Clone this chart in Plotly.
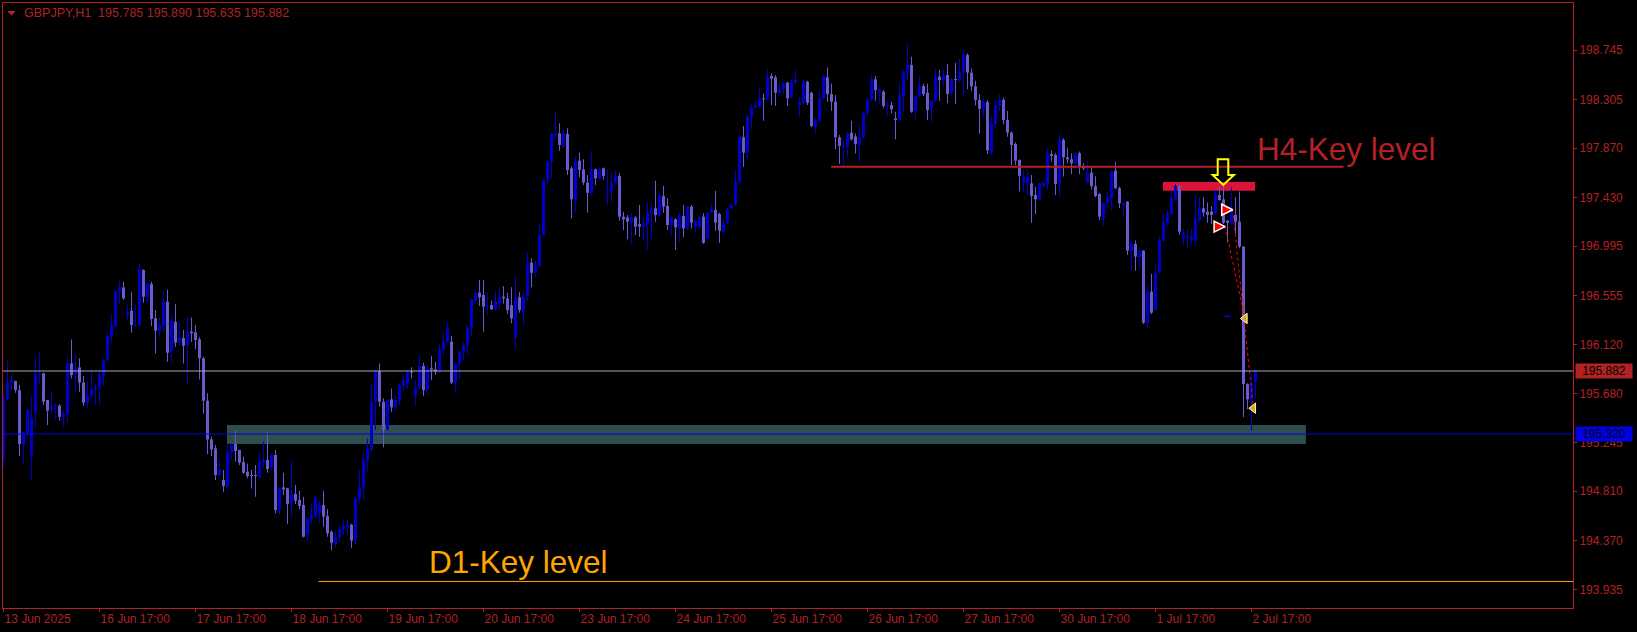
import plotly.graph_objects as go

# ---------------- data ----------------
tick_labels = ["13 Jun 2025", "16 Jun 17:00", "17 Jun 17:00", "18 Jun 17:00", "19 Jun 17:00",
               "20 Jun 17:00", "23 Jun 17:00", "24 Jun 17:00", "25 Jun 17:00", "26 Jun 17:00",
               "27 Jun 17:00", "30 Jun 17:00", "1 Jul 17:00", "2 Jul 17:00"]
tick_bars = [0, 24, 48, 72, 96, 120, 144, 168, 192, 216, 240, 264, 288, 312]

price_ticks = [198.745, 198.305, 197.870, 197.430, 196.995, 196.555, 196.120,
               195.680, 195.245, 194.810, 194.370, 193.935]

open_ = [195.103, 195.632, 195.778, 195.793, 195.712, 195.222, 195.311, 195.133, 195.510, 195.846,
         195.861, 195.623, 195.540, 195.564, 195.573, 195.474, 195.504, 195.950, 195.855, 195.914,
         195.778, 195.599, 195.662, 195.718, 195.736, 195.837, 195.986, 196.188, 196.277, 196.589,
         196.628, 196.381, 196.420, 196.289, 196.292, 196.783, 196.545, 196.658, 196.352, 196.242,
         196.283, 196.500, 196.054, 196.322, 196.135, 196.176, 196.114, 196.233, 196.227, 196.164,
         195.995, 195.617, 195.272, 195.192, 194.954, 194.910, 194.850, 195.162, 195.231, 195.177,
         195.070, 194.984, 194.951, 194.951, 194.933, 195.064, 195.088, 195.023, 195.133, 194.642,
         194.844, 194.835, 194.701, 194.785, 194.731, 194.687, 194.419, 194.559, 194.583, 194.618,
         194.687, 194.589, 194.449, 194.340, 194.400, 194.470, 194.490, 194.510, 194.370, 194.746,
         194.844, 195.082, 195.177, 195.608, 195.882, 195.608, 195.361, 195.629, 195.558, 195.617,
         195.748, 195.772, 195.876, 195.668, 195.742, 195.926, 195.712, 195.906, 195.897, 195.876,
         196.075, 196.143, 196.143, 195.778, 195.950, 196.054, 196.114, 196.271, 196.509, 196.580,
         196.560, 196.462, 196.470, 196.432, 196.485, 196.545, 196.530, 196.470, 196.182, 196.539,
         196.411, 196.551, 196.848, 196.759, 196.818, 197.095, 197.591, 197.749, 197.987, 198.002,
         197.889, 197.996, 197.689, 197.407, 197.758, 197.681, 197.562, 197.466, 197.681, 197.600,
         197.689, 197.472, 197.481, 197.562, 197.621, 197.258, 197.252, 197.205, 197.252, 197.193,
         197.169, 197.184, 197.288, 197.333, 197.273, 197.443, 197.354, 197.184, 197.235, 197.151,
         197.264, 197.154, 197.348, 197.169, 197.169, 197.258, 197.065, 197.294, 197.318, 197.282,
         197.124, 197.205, 197.333, 197.363, 197.562, 197.966, 197.829, 198.150, 198.233, 198.239,
         198.314, 198.305, 198.513, 198.501, 198.364, 198.394, 198.453, 198.323, 198.453, 198.254,
         198.275, 198.462, 198.364, 198.061, 198.114, 198.314, 198.501, 198.352, 198.284, 197.966,
         197.883, 197.883, 198.007, 197.972, 197.898, 197.966, 198.180, 198.305, 198.483, 198.364,
         198.373, 198.245, 198.254, 198.135, 198.120, 198.329, 198.552, 198.611, 198.204, 198.334,
         198.424, 198.364, 198.216, 198.293, 198.507, 198.477, 198.522, 198.358, 198.483, 198.477,
         198.552, 198.700, 198.543, 198.420, 198.300, 198.220, 198.280, 197.824, 198.085, 198.250,
         198.300, 198.121, 198.008, 197.907, 197.764, 197.562, 197.556, 197.556, 197.452, 197.413,
         197.532, 197.550, 197.818, 197.809, 197.550, 197.943, 197.788, 197.770, 197.735, 197.824,
         197.711, 197.562, 197.651, 197.530, 197.461, 197.244, 197.384, 197.422, 197.669, 197.512,
         197.363, 197.393, 196.947, 197.015, 196.896, 196.956, 196.313, 196.590, 196.426, 196.759,
         197.045, 197.205, 197.283, 197.413, 197.532, 197.066, 197.074, 197.045, 197.045, 197.223,
         197.333, 197.303, 197.303, 197.289, 197.452, 197.413, 197.223, 197.199, 197.274, 197.214,
         196.991, 195.766, 195.630, 195.785]

high = [195.683, 195.971, 195.861, 195.795, 195.757, 195.341, 195.540, 195.653, 196.004, 196.054,
        195.866, 195.625, 195.706, 195.594, 195.588, 195.534, 195.995, 196.164, 196.033, 195.995,
        195.837, 195.787, 195.897, 195.772, 195.897, 195.986, 196.218, 196.390, 196.604, 196.687,
        196.679, 196.470, 196.589, 196.470, 196.836, 196.789, 196.670, 196.679, 196.426, 196.352,
        196.589, 196.610, 196.381, 196.479, 196.322, 196.247, 196.372, 196.360, 196.292, 196.182,
        196.010, 195.683, 195.296, 195.222, 195.088, 195.000, 195.222, 195.237, 195.347, 195.180,
        195.118, 195.058, 195.000, 195.043, 195.162, 195.252, 195.332, 195.142, 195.177, 194.844,
        194.975, 194.840, 195.082, 194.865, 194.814, 194.761, 194.583, 194.701, 194.767, 194.725,
        194.811, 194.648, 194.460, 194.460, 194.510, 194.550, 194.550, 194.520, 194.760, 194.999,
        195.162, 195.281, 195.766, 195.891, 195.950, 195.638, 195.629, 195.727, 195.659, 195.778,
        195.846, 195.885, 195.915, 195.808, 196.033, 195.956, 195.926, 196.016, 195.965, 196.129,
        196.218, 196.322, 196.194, 195.956, 196.069, 196.143, 196.292, 196.530, 196.604, 196.693,
        196.693, 196.574, 196.509, 196.589, 196.628, 196.640, 196.580, 196.628, 196.729, 196.589,
        196.589, 196.937, 196.887, 196.872, 197.199, 197.591, 197.758, 198.008, 198.195, 198.091,
        198.037, 198.046, 197.704, 197.793, 197.829, 197.770, 197.630, 197.847, 197.689, 197.704,
        197.698, 197.675, 197.660, 197.675, 197.645, 197.303, 197.273, 197.294, 197.262, 197.362,
        197.250, 197.392, 197.377, 197.579, 197.461, 197.532, 197.422, 197.258, 197.244, 197.288,
        197.363, 197.354, 197.363, 197.228, 197.264, 197.288, 197.303, 197.371, 197.490, 197.294,
        197.230, 197.342, 197.377, 197.675, 197.987, 198.067, 198.165, 198.263, 198.299, 198.403,
        198.358, 198.572, 198.537, 198.522, 198.453, 198.462, 198.462, 198.483, 198.572, 198.323,
        198.477, 198.471, 198.373, 198.135, 198.382, 198.522, 198.590, 198.447, 198.343, 197.987,
        197.942, 198.016, 198.115, 198.001, 198.067, 198.195, 198.314, 198.531, 198.513, 198.418,
        198.388, 198.284, 198.284, 198.195, 198.447, 198.566, 198.798, 198.685, 198.343, 198.513,
        198.447, 198.447, 198.299, 198.581, 198.566, 198.572, 198.620, 198.492, 198.632, 198.670,
        198.745, 198.715, 198.580, 198.470, 198.350, 198.330, 198.300, 198.150, 198.300, 198.350,
        198.320, 198.200, 198.017, 197.919, 197.770, 197.675, 197.681, 197.630, 197.526, 197.562,
        197.570, 197.868, 197.848, 197.824, 197.996, 197.958, 197.868, 197.824, 197.830, 197.839,
        197.735, 197.749, 197.705, 197.620, 197.467, 197.384, 197.482, 197.669, 197.749, 197.526,
        197.393, 197.398, 197.045, 197.045, 196.962, 196.960, 196.649, 196.748, 196.828, 197.074,
        197.283, 197.318, 197.491, 197.550, 197.541, 197.155, 197.146, 197.140, 197.461, 197.431,
        197.431, 197.384, 197.354, 197.491, 197.526, 197.541, 197.229, 197.520, 197.431, 197.482,
        196.997, 195.772, 195.862, 195.890]

low = [195.029, 195.623, 195.718, 195.689, 195.124, 195.058, 195.305, 194.916, 195.391, 195.772,
       195.579, 195.400, 195.490, 195.445, 195.439, 195.385, 195.421, 195.816, 195.683, 195.698,
       195.570, 195.546, 195.638, 195.579, 195.570, 195.748, 195.980, 196.135, 196.262, 196.485,
       196.515, 196.337, 196.224, 196.277, 196.283, 196.491, 196.485, 196.283, 196.039, 196.182,
       196.233, 195.965, 195.950, 196.099, 196.114, 195.950, 195.757, 196.143, 196.075, 195.807,
       195.504, 195.142, 195.124, 194.910, 194.940, 194.806, 194.835, 195.088, 195.073, 195.043,
       194.963, 194.925, 194.835, 194.761, 194.925, 195.014, 194.975, 194.993, 194.612, 194.597,
       194.776, 194.517, 194.577, 194.696, 194.648, 194.398, 194.374, 194.517, 194.568, 194.523,
       194.493, 194.404, 194.280, 194.310, 194.360, 194.420, 194.420, 194.300, 194.340, 194.701,
       194.731, 194.993, 195.162, 195.355, 195.564, 195.201, 195.350, 195.519, 195.528, 195.579,
       195.706, 195.718, 195.816, 195.570, 195.718, 195.659, 195.668, 195.801, 195.846, 195.861,
       196.025, 196.129, 195.766, 195.689, 195.808, 195.980, 196.025, 196.194, 196.485, 196.462,
       196.233, 196.381, 196.426, 196.426, 196.426, 196.485, 196.390, 196.307, 196.084, 196.402,
       196.292, 196.509, 196.628, 196.717, 196.812, 197.086, 197.541, 197.600, 197.942, 197.847,
       197.877, 197.630, 197.243, 197.294, 197.609, 197.541, 197.294, 197.452, 197.541, 197.585,
       197.591, 197.362, 197.392, 197.550, 197.223, 197.139, 197.056, 197.015, 197.095, 197.080,
       197.050, 196.961, 197.056, 197.214, 197.264, 197.294, 197.139, 197.095, 196.961, 197.035,
       197.074, 197.139, 197.154, 197.124, 197.154, 197.014, 197.056, 197.290, 197.133, 197.026,
       197.110, 197.193, 197.330, 197.355, 197.555, 197.704, 197.758, 198.037, 198.225, 198.225,
       198.114, 198.299, 198.254, 198.245, 198.340, 198.355, 198.245, 198.314, 198.440, 198.150,
       198.263, 198.254, 198.055, 197.996, 198.105, 198.299, 198.284, 198.204, 197.859, 197.728,
       197.710, 197.793, 197.940, 197.823, 197.734, 197.950, 198.160, 198.290, 198.293, 198.254,
       198.225, 198.156, 198.180, 197.948, 198.110, 198.195, 198.477, 198.186, 198.126, 198.320,
       198.334, 198.120, 198.106, 198.284, 198.293, 198.420, 198.269, 198.350, 198.263, 198.460,
       198.329, 198.394, 198.380, 198.250, 198.000, 198.150, 197.820, 197.810, 198.050, 198.200,
       198.080, 197.972, 197.720, 197.720, 197.482, 197.482, 197.452, 197.205, 197.283, 197.407,
       197.520, 197.491, 197.750, 197.452, 197.431, 197.616, 197.735, 197.639, 197.705, 197.639,
       197.675, 197.556, 197.500, 197.431, 197.229, 197.176, 197.342, 197.318, 197.505, 197.333,
       197.259, 196.917, 196.777, 196.777, 196.798, 196.302, 196.263, 196.391, 196.420, 196.748,
       197.036, 197.176, 197.274, 197.407, 197.095, 197.006, 196.976, 197.015, 196.997, 197.215,
       197.259, 197.205, 197.193, 197.274, 197.400, 197.193, 197.027, 197.190, 197.110, 196.976,
       195.469, 195.540, 195.350, 195.635]

close = [195.638, 195.781, 195.802, 195.712, 195.231, 195.332, 195.534, 195.460, 195.861, 195.861,
         195.608, 195.528, 195.564, 195.579, 195.474, 195.504, 195.950, 195.846, 195.914, 195.778,
         195.599, 195.668, 195.718, 195.739, 195.855, 195.980, 196.194, 196.292, 196.598, 196.628,
         196.530, 196.411, 196.292, 196.301, 196.789, 196.545, 196.664, 196.346, 196.242, 196.292,
         196.500, 196.045, 196.328, 196.135, 196.176, 196.108, 196.227, 196.218, 196.158, 195.995,
         195.617, 195.272, 195.183, 194.954, 194.999, 194.856, 195.162, 195.222, 195.168, 195.064,
         194.975, 194.945, 194.945, 194.945, 195.073, 195.088, 195.008, 195.133, 194.642, 194.841,
         194.826, 194.696, 194.785, 194.725, 194.678, 194.404, 194.568, 194.597, 194.755, 194.687,
         194.583, 194.434, 194.350, 194.400, 194.470, 194.500, 194.510, 194.370, 194.746, 194.844,
         195.082, 195.183, 195.608, 195.882, 195.608, 195.361, 195.623, 195.558, 195.623, 195.757,
         195.801, 195.876, 195.867, 195.736, 195.926, 195.712, 195.906, 195.891, 195.876, 196.075,
         196.143, 196.262, 195.778, 195.944, 196.054, 196.114, 196.271, 196.515, 196.580, 196.539,
         196.456, 196.470, 196.432, 196.500, 196.539, 196.530, 196.426, 196.352, 196.539, 196.426,
         196.545, 196.848, 196.759, 196.827, 197.095, 197.585, 197.749, 197.996, 198.002, 197.898,
         198.002, 197.675, 197.413, 197.758, 197.675, 197.562, 197.472, 197.681, 197.600, 197.681,
         197.621, 197.490, 197.562, 197.621, 197.258, 197.235, 197.214, 197.252, 197.169, 197.169,
         197.199, 197.294, 197.333, 197.273, 197.452, 197.348, 197.184, 197.252, 197.163, 197.273,
         197.154, 197.348, 197.205, 197.214, 197.252, 197.026, 197.294, 197.324, 197.205, 197.133,
         197.199, 197.324, 197.363, 197.571, 197.972, 197.829, 198.156, 198.233, 198.254, 198.314,
         198.305, 198.501, 198.489, 198.364, 198.394, 198.447, 198.314, 198.462, 198.483, 198.284,
         198.462, 198.275, 198.067, 198.126, 198.314, 198.513, 198.352, 198.284, 197.966, 197.889,
         197.889, 198.001, 197.948, 197.906, 197.966, 198.180, 198.305, 198.483, 198.388, 198.394,
         198.245, 198.254, 198.216, 198.120, 198.343, 198.552, 198.611, 198.195, 198.334, 198.424,
         198.352, 198.210, 198.293, 198.507, 198.477, 198.522, 198.352, 198.483, 198.477, 198.552,
         198.700, 198.543, 198.420, 198.300, 198.220, 198.280, 197.850, 198.085, 198.250, 198.300,
         198.120, 198.008, 197.898, 197.758, 197.622, 197.616, 197.610, 197.443, 197.413, 197.556,
         197.562, 197.824, 197.800, 197.550, 197.943, 197.788, 197.770, 197.735, 197.824, 197.711,
         197.690, 197.651, 197.530, 197.443, 197.259, 197.378, 197.431, 197.660, 197.512, 197.378,
         197.378, 196.956, 197.021, 196.902, 196.956, 196.313, 196.590, 196.403, 196.759, 197.051,
         197.214, 197.288, 197.422, 197.532, 197.125, 197.104, 197.086, 197.080, 197.235, 197.333,
         197.294, 197.274, 197.274, 197.461, 197.407, 197.205, 197.205, 197.283, 197.214, 196.991,
         195.766, 195.630, 195.772, 195.882]

# levels / objects (prices, bar indices)
bid_price = 195.882
blue_level = 195.320
d1_level = 194.005
h4_level = 197.704
zone_low, zone_high = 195.231, 195.400
h4_zone_low, h4_zone_high = 197.490, 197.568
entry_x = [305.4, 307.3]
entry_y = [197.17, 197.32]
exit_x = [310.35, 312.45]
exit_y = [196.35, 195.55]

# ---------------- figure ----------------
BULL = "#0000CD"
BEAR = "#6A5ACD"
RED = "#B22222"
FONT = "Liberation Sans, Arial, sans-serif"

n = len(close)
xs = list(range(n))
cols = [BULL if c >= o else BEAR for o, c in zip(open_, close)]
body_base = [min(o, c) for o, c in zip(open_, close)]
body_h = [max(abs(c - o), 0.009) for o, c in zip(open_, close)]
wick_h = [h - l for h, l in zip(high, low)]

fig = go.Figure()
fig.add_trace(go.Bar(x=xs, y=wick_h, base=low, width=0.25,
                     marker=dict(color=cols, line=dict(width=0)), hoverinfo="skip"))
fig.add_trace(go.Bar(x=xs, y=body_h, base=body_base, width=0.75,
                     marker=dict(color=cols, line=dict(width=0)), hoverinfo="skip"))

# trade lines
for k in range(2):
    fig.add_trace(go.Scatter(x=[entry_x[k], exit_x[k]], y=[entry_y[k], exit_y[k]], mode="lines",
                             line=dict(color="#FF0000", width=1, dash="3px,3px"), hoverinfo="skip"))
fig.add_trace(go.Scatter(x=entry_x, y=entry_y, mode="markers",
                         marker=dict(symbol="arrow-right", size=11, color="#FF0000",
                                     line=dict(color="white", width=1.5)), hoverinfo="skip"))
fig.add_trace(go.Scatter(x=exit_x, y=exit_y, mode="markers",
                         marker=dict(symbol="triangle-left", size=9, color="#DAA520",
                                     line=dict(color="#FFF5D0", width=1)), hoverinfo="skip"))

XMIN, XMAX = -0.125, 392.375
YMIN, YMAX = 193.7682, 199.1642

shapes = [
    dict(type="rect", xref="x", yref="y", x0=55.875, x1=325.6, y0=zone_low, y1=zone_high,
         fillcolor="#2F4F4F", line=dict(width=0), layer="below"),
    dict(type="rect", xref="x", yref="y", x0=289.875, x1=312.9, y0=h4_zone_low, y1=h4_zone_high,
         fillcolor="#DC143C", line=dict(width=0), layer="below"),
    dict(type="line", xref="paper", yref="y", x0=0, x1=1, y0=bid_price, y1=bid_price,
         line=dict(color="#A9A9A9", width=1)),
    dict(type="line", xref="paper", yref="y", x0=0, x1=1, y0=blue_level, y1=blue_level,
         line=dict(color="#0000E6", width=1.2)),
    dict(type="line", xref="x", yref="y", x0=78.75, x1=XMAX, y0=d1_level, y1=d1_level,
         line=dict(color="#FFA500", width=1)),
    dict(type="line", xref="x", yref="y", x0=206.9, x1=335.0, y0=h4_level, y1=h4_level,
         line=dict(color="#B52025", width=2)),
    dict(type="line", xref="x", yref="y", x0=305.1, x1=306.8, y0=196.37, y1=196.37,
         line=dict(color="#0000FF", width=1.5)),
    dict(type="path", xref="x", yref="y",
         path="M 303.55,197.770 L 306.2,197.770 L 306.2,197.630 L 307.6,197.630 L 304.95,197.541 "
              "L 302.3,197.630 L 303.55,197.630 Z",
         line=dict(color="#FFFF00", width=2), fillcolor="rgba(0,0,0,0)"),
    dict(type="path", xref="paper", yref="paper",
         path="M 0.00318,0.98595 L 0.00764,0.98595 L 0.00541,0.98017 Z",
         line=dict(color=RED, width=1), fillcolor=RED),
]

annotations = [
    dict(text="GBPJPY,H1  195.785 195.890 195.635 195.882", xref="paper", yref="paper",
         x=0.0121, y=0.984, xanchor="left", yanchor="middle", showarrow=False,
         font=dict(family=FONT, size=12.5, color=RED)),
    dict(text="H4-Key level", xref="x", yref="y", x=312.9, y=197.865, xanchor="left",
         yanchor="middle", showarrow=False, font=dict(family=FONT, size=31.5, color="#B52025")),
    dict(text="D1-Key level", xref="x", yref="y", x=105.9, y=194.180, xanchor="left",
         yanchor="middle", showarrow=False, font=dict(family=FONT, size=31.5, color="#FFA500")),
    dict(text="195.882", xref="paper", yref="y", x=1, y=bid_price, xanchor="left", xshift=2,
         yanchor="middle", showarrow=False, bgcolor="#B22222", width=54, height=12, borderpad=1,
         font=dict(family=FONT, size=12, color="#000000")),
    dict(text="195.320", xref="paper", yref="y", x=1, y=blue_level, xanchor="left", xshift=2,
         yanchor="middle", showarrow=False, bgcolor="#0000E6", width=54, height=12, borderpad=1,
         font=dict(family=FONT, size=12, color="#000000")),
]

fig.update_layout(
    width=1637, height=632, autosize=False,
    margin=dict(l=3, r=64, t=3, b=24),
    paper_bgcolor="#000000", plot_bgcolor="#000000",
    showlegend=False, barmode="overlay", hovermode=False,
    shapes=shapes, annotations=annotations,
    xaxis=dict(range=[XMIN, XMAX], showgrid=False, zeroline=False,
               tickmode="array", tickvals=tick_bars, ticktext=tick_labels,
               ticks="outside", ticklen=3, tickcolor=RED, tickwidth=1,
               ticklabelposition="outside right",
               tickfont=dict(family=FONT, size=12, color=RED),
               showline=True, linecolor=RED, linewidth=1, mirror=True),
    yaxis=dict(range=[YMIN, YMAX], side="right", showgrid=False, zeroline=False,
               tickmode="array", tickvals=price_ticks, ticktext=[f"{p:.3f}" for p in price_ticks],
               ticks="outside", ticklen=3, tickcolor=RED, tickwidth=1,
               tickfont=dict(family=FONT, size=12, color=RED),
               showline=True, linecolor=RED, linewidth=1, mirror=True),
)

fig.write_html("out.html", config={"displayModeBar": False, "staticPlot": True},
               post_script="document.body.style.margin='0';document.body.style.background='#000';"
                           "document.body.style.overflow='hidden';")
